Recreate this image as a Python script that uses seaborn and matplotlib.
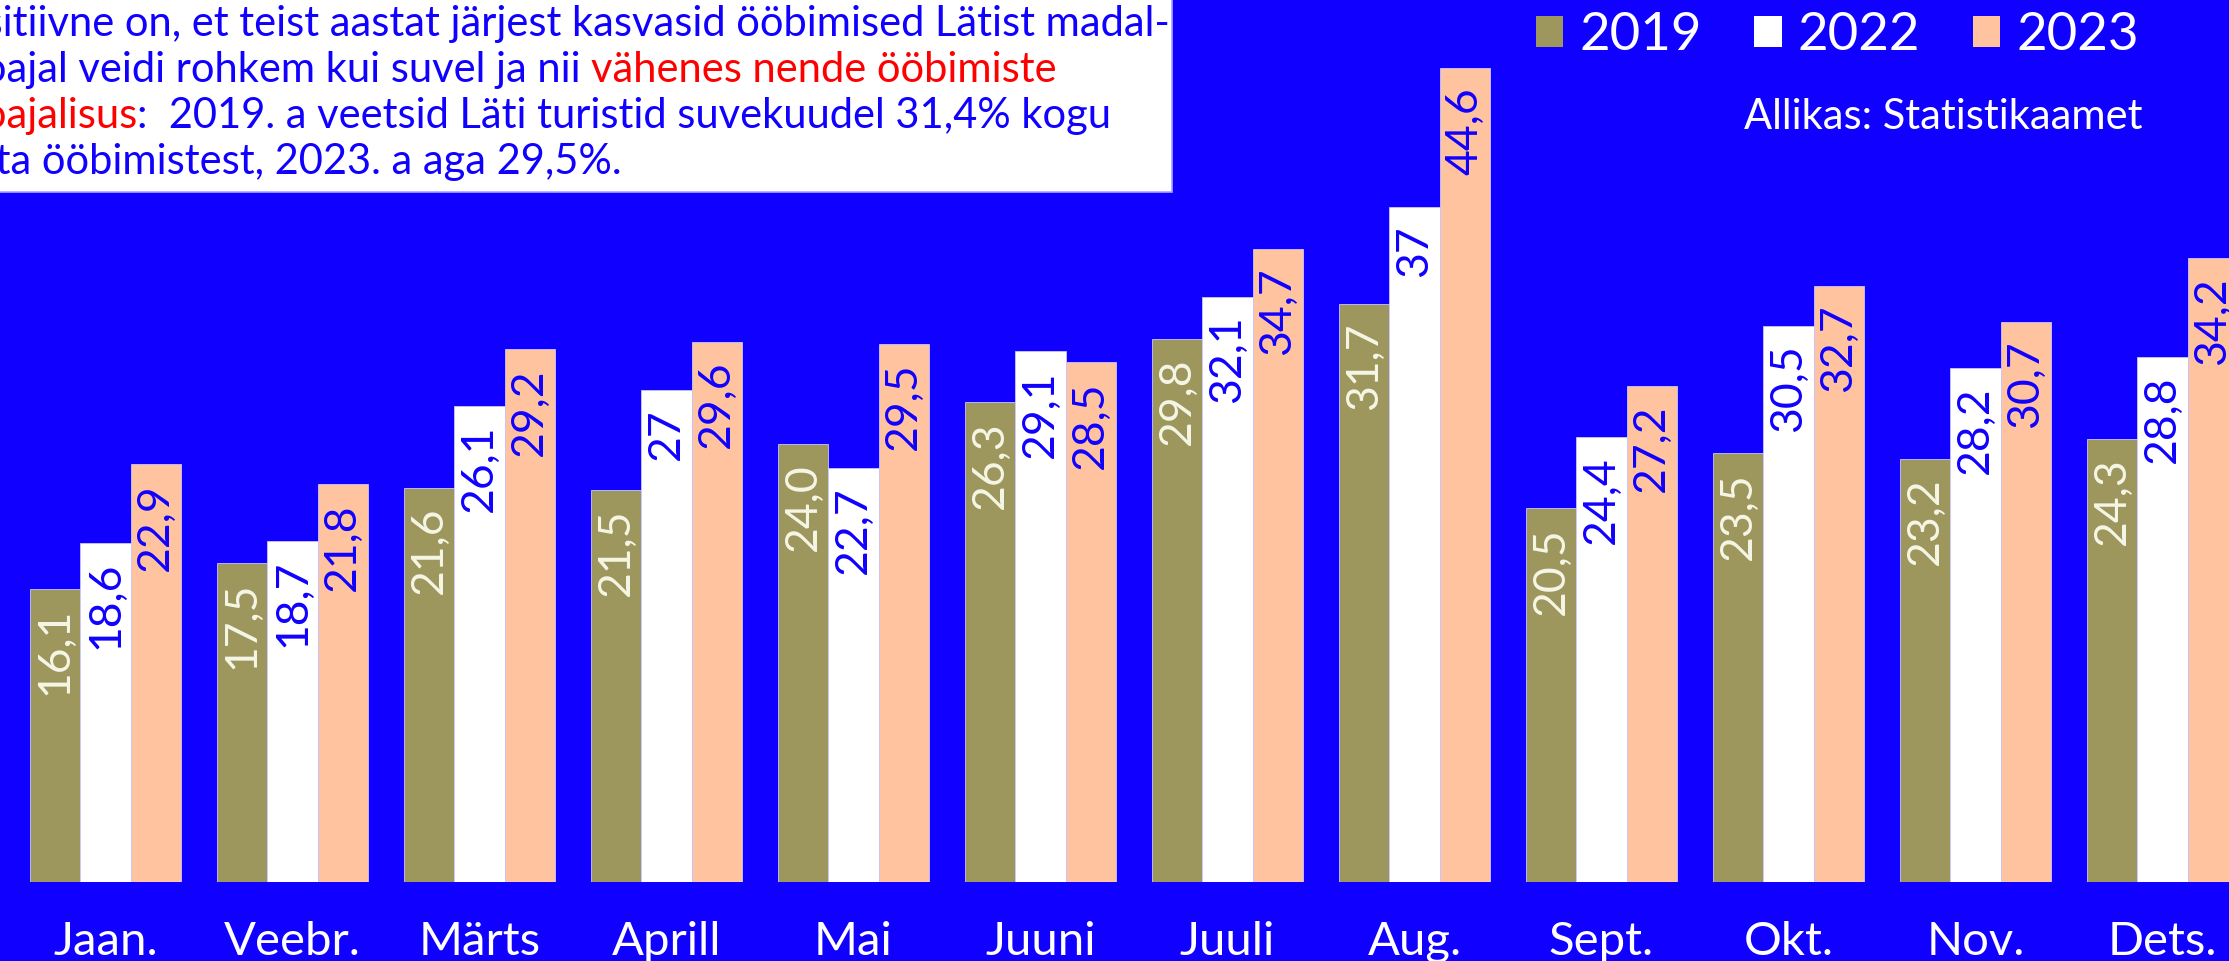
import pandas as pd
import seaborn as sns
import matplotlib.pyplot as plt
from matplotlib.patches import Rectangle, Patch
from matplotlib.text import Annotation

kuud = ['Jaan.', 'Veebr.', 'Märts', 'Aprill', 'Mai', 'Juuni', 'Juuli', 'Aug.',
        'Sept.', 'Okt.', 'Nov.', 'Dets.']
aastad = ['2019', '2022', '2023']
# väärtused nii nagu graafikul kirjas
v2019 = ['16,1', '17,5', '21,6', '21,5', '24,0', '26,3', '29,8', '31,7', '20,5', '23,5', '23,2', '24,3']
v2022 = ['18,6', '18,7', '26,1', '27', '22,7', '29,1', '32,1', '37', '24,4', '30,5', '28,2', '28,8']
v2023 = ['22,9', '21,8', '29,2', '29,6', '29,5', '28,5', '34,7', '44,6', '27,2', '32,7', '30,7', '34,2']

sinine = '#1000ff'
punane = '#ff0000'
varvid = ['#9d975e', '#ffffff', '#ffc49f']
silt_varvid = ['#f6f6e6', sinine, sinine]

read = []
for aasta, vals in zip(aastad, [v2019, v2022, v2023]):
    for kuu, v in zip(kuud, vals):
        read.append({'kuu': kuu, 'aasta': aasta, 'silt': v, 'osakaal': float(v.replace(',', '.'))})
df = pd.DataFrame(read)

sns.set_style('white')
plt.rcParams['font.family'] = ['Lato', 'DejaVu Sans']

fig = plt.figure(figsize=(22.29, 9.61), dpi=100, facecolor=sinine)
ax = fig.add_axes([0, 78.7 / 961, 1, 1 - 78.7 / 961])
ax.set_facecolor(sinine)

sns.barplot(data=df, x='kuu', y='osakaal', hue='aasta', order=kuud, hue_order=aastad,
            palette=varvid, saturation=1, width=0.807, errorbar=None, legend=False,
            edgecolor='#c9c6ff', linewidth=0.6, ax=ax)

for i, cont in enumerate(ax.containers):
    sildid = df[df['aasta'] == aastad[i]]['silt'].tolist()
    tekstid = ax.bar_label(cont, labels=sildid, rotation=90, padding=-13.5,
                           color=silt_varvid[i], fontsize=32)
    for t in tekstid:
        t.set_va('top')

ax.set_xlim(-0.564, 11.356)
ax.set_ylim(0, 48.35)
ax.set_xlabel('')
ax.set_ylabel('')
ax.set_yticks([])
ax.tick_params(axis='x', length=0, pad=52, labelsize=34, labelcolor='white')
for lbl in ax.get_xticklabels():
    lbl.set_va('baseline')
sns.despine(ax=ax, left=True, bottom=True)

# legend
kastid = [Patch(facecolor=c, edgecolor='none') for c in varvid]
fig.legend(kastid, aastad, loc='upper left', bbox_to_anchor=(1536 / 2229, 1 - 12 / 961),
           ncol=3, frameon=False, fontsize=38, labelcolor='white',
           handlelength=0.52, handleheight=0.52, handletextpad=0.3,
           columnspacing=1.0, borderpad=0, borderaxespad=0)

fig.text(2142 / 2229, 1 - 129 / 961, 'Allikas: Statistikaamet', color='white',
         fontsize=30, ha='right', va='baseline')

# tekstikast üleval vasakul
fig.patches.append(Rectangle((-0.01, 1 - 192 / 961), 0.01 + 1172 / 2229, 0.02 + 192 / 961,
                             transform=fig.transFigure, facecolor='white',
                             edgecolor='#a9a6ff', linewidth=1.2, zorder=5))

x0 = -64 / 2229
fs = 30


def rida(y):
    return 1 - y / 961


def jatk(eelmine, tekst, varv):
    a = Annotation(tekst, xy=(1, 0), xycoords=eelmine, color=varv, fontsize=fs,
                   va='bottom', ha='left', zorder=6)
    fig.add_artist(a)
    return a


fig.text(x0, rida(36), 'Positiivne on, et teist aastat järjest kasvasid ööbimised Lätist madal-',
         color=sinine, fontsize=fs, va='baseline', zorder=6)
t2 = fig.text(x0, rida(82), 'hooajal veidi rohkem kui suvel ja nii ', color=sinine,
              fontsize=fs, va='baseline', zorder=6)
jatk(t2, 'vähenes nende ööbimiste', punane)
t3 = fig.text(x0, rida(128), 'hooajalisus', color=punane, fontsize=fs, va='baseline', zorder=6)
jatk(t3, ':  2019. a veetsid Läti turistid suvekuudel 31,4% kogu', sinine)
fig.text(x0, rida(174), 'aasta ööbimistest, 2023. a aga 29,5%.', color=sinine,
         fontsize=fs, va='baseline', zorder=6)

fig.savefig('out.png', dpi=100, facecolor=sinine)
